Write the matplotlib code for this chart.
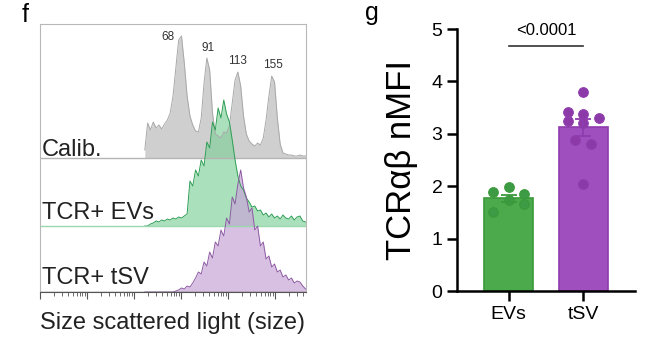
import numpy as np
import matplotlib
matplotlib.use("Agg")
from matplotlib import pyplot as plt

plt.rcParams['font.family'] = ['Liberation Sans', 'DejaVu Sans']

# ---- panel f: stacked size histograms (counts per log-size bin) ----
bin_start = 2.2     # log10 of first bin edge
bin_step = 0.06
calib_counts = [8, 35, 28, 36, 30, 33, 29, 34, 38, 45,
                62, 90, 118, 122, 95, 62, 42, 33, 27, 26,
                40, 75, 100, 88, 45, 24, 22, 20, 26, 25,
                32, 55, 78, 86, 72, 42, 24, 17, 14, 12,
                15, 13, 20, 38, 62, 82, 76, 40, 14, 5,
                4, 3, 3, 2, 2, 3, 2, 2]
evs_counts = [0, 0, 2, 3, 5, 4, 6, 5, 7, 6,
              8, 7, 9, 8, 10, 12, 45, 40, 56, 50,
              66, 60, 84, 78, 104, 96, 118, 108, 126, 112,
              104, 86, 66, 50, 40, 36, 28, 24, 19, 20,
              15, 16, 11, 13, 9, 12, 8, 10, 7, 11,
              8, 7, 10, 6, 9, 10, 5, 4]
tsv_counts = [0, 0, 0, 0, 0, 0, 0, 0, 0, 0,
              0, 1, 2, 4, 3, 6, 5, 9, 14, 20,
              18, 30, 26, 40, 34, 50, 46, 62, 56, 74,
              68, 95, 88, 108, 122, 104, 95, 80, 84, 62,
              66, 46, 50, 33, 36, 25, 28, 20, 22, 15,
              17, 12, 14, 9, 11, 10, 6, 3]
hist_labels = ["Calib.", "TCR+ EVs", "TCR+ tSV"]
peak_labels = ["68", "91", "113", "155"]

# ---- panel g: TCRab nMFI ----
groups = ["EVs", "tSV"]
evs_vals = [1.88, 1.98, 1.86, 1.51, 1.73, 1.66]
tsv_vals = [3.80, 3.41, 3.37, 3.31, 3.25, 3.21, 2.89, 2.81, 2.04]
p_text = "<0.0001"

fig = plt.figure(figsize=(6.5, 3.45), dpi=100)

# left panel
ax = fig.add_axes([40/650, 1-292/345, 266/650, 268/345])
x = 10 ** (bin_start + bin_step/2 + bin_step*np.arange(len(calib_counts)))
series = [(calib_counts, 134, '#cfcfcf', '#a8a8a8', 1.0, '#b5b5b5'),
          (evs_counts, 66, '#7fd09a', '#2f9e55', 0.65, '#9ad8ad'),
          (tsv_counts, 0, '#c8a6d8', '#8d5aa3', 0.7, '#555555')]
for counts, off, fc, ec, a, basec in series:
    h = np.array(counts, dtype=float)
    ax.fill_between(x, off, off + h, color=fc, alpha=a, lw=0)
    ax.plot(x, off + h, color=ec, lw=0.7)
    ax.axhline(off, color=basec, lw=1.0)

xmax = 10 ** (266/47)
ax.set_xscale('log')
ax.set_xlim(1, xmax)
ax.set_ylim(0, 268)
ax.set_yticks([])
ax.tick_params(axis='x', which='major', length=5, width=0.8, color='#555555', labelbottom=False)
ax.tick_params(axis='x', which='minor', length=3, width=0.6, color='#555555')
for s in ['top', 'left', 'right']:
    ax.spines[s].set_color('#b8b8b8')
ax.spines['bottom'].set_color('#555555')

for lab, yy in zip(hist_labels, [142, 79, 14]):
    ax.text(0.008, yy, lab, transform=ax.get_yaxis_transform(), fontsize=17,
            color='#222222', va='center', ha='left')
for lab, lx, ly in zip(peak_labels, [2.72, 3.57, 4.21, 4.96], [255, 244, 231, 227]):
    ax.text(10**lx, ly, lab, fontsize=8.5, color='#333333', ha='center', va='center')

fig.text(173/650, 1-323/345, "Size scattered light (size)", fontsize=17,
         ha='center', va='center', color='#222222')
fig.text(25/650, 1-3/345, "f", fontsize=18, ha='center', va='top')
fig.text(372/650, 1-13/345, "g", fontsize=18, ha='center', va='center')

# right panel
ax2 = fig.add_axes([457/650, 1-291/345, 178/650, 262/345])
bar_fc = ['#4caa4c', '#a04fbe']
bar_ec = ['#3a9a3a', '#8f3cae']
pt_c = ['#3d9a45', '#8c3aa8']
all_vals = [evs_vals, tsv_vals]
offsets = [[-0.21, 0, 0.2, -0.21, 0, 0.2],
           [0, -0.21, 0, 0.21, -0.21, 0, -0.11, 0.1, 0]]
for i, vals in enumerate(all_vals):
    v = np.array(vals)
    m = v.mean()
    sem = v.std(ddof=1) / np.sqrt(len(v))
    ax2.bar(i, m, width=0.65, color=bar_fc[i], edgecolor=bar_ec[i], lw=1.2, zorder=2)
    ax2.scatter(i + np.array(offsets[i]), v, s=48, color=pt_c[i], edgecolor=bar_ec[i],
                lw=0.8, zorder=3)
    ax2.errorbar(i, m, yerr=sem, color=bar_ec[i], capsize=6, lw=1.3, capthick=1.3, zorder=4)

ax2.plot([0, 1], [4.67, 4.67], color='#333333', lw=1.2)
ax2.text(0.5, 4.98, p_text, ha='center', va='center', fontsize=12)

ax2.set_xlim(-0.687, 1.687)
ax2.set_ylim(0, 5)
ax2.set_yticks([0, 1, 2, 3, 4, 5])
ax2.set_xticks([0, 1])
ax2.set_xticklabels(groups)
ax2.tick_params(axis='both', length=7, width=1.8, labelsize=14)
ax2.tick_params(axis='x', pad=4)
for s in ['top', 'right']:
    ax2.spines[s].set_visible(False)
for s in ['left', 'bottom']:
    ax2.spines[s].set_linewidth(1.8)
ax2.set_ylabel("TCRαβ nMFI", fontsize=25, labelpad=10)

fig.savefig("out.png", dpi=100)
